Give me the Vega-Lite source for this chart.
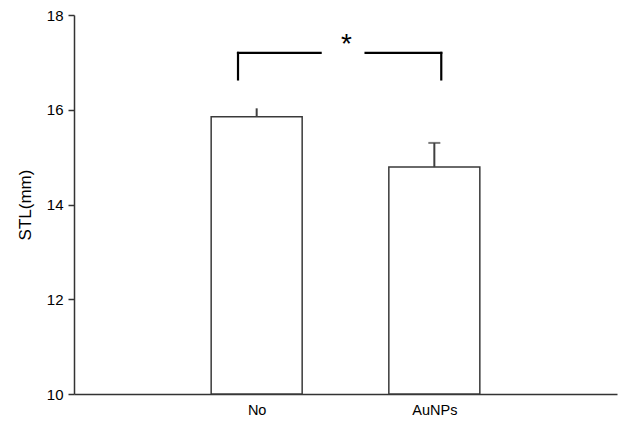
{
  "$schema": "https://vega.github.io/schema/vega-lite/v6.json",
  "width": 543,
  "height": 379,
  "autosize": {"type": "none"},
  "padding": {"left": 74, "top": 15, "right": 4, "bottom": 27},
  "background": "white",
  "config": {
    "view": {"stroke": null},
    "font": "Liberation Sans",
    "axis": {"grid": false, "domainColor": "#333333", "domainWidth": 1.5, "tickColor": "#333333", "tickWidth": 1.5, "labelColor": "black", "titleColor": "black", "labelFont": "Liberation Sans", "titleFont": "Liberation Sans", "titleFontWeight": "normal"}
  },
  "datasets": {
    "bars": [
      {"group": "No", "pos": 1, "mean": 15.85, "upper": 16.03},
      {"group": "AuNPs", "pos": 2, "mean": 14.79, "upper": 15.3}
    ],
    "bracket": [
      {"x": 0.895, "x2": 0.895, "y": 16.64, "y2": 17.2},
      {"x": 0.895, "x2": 1.36, "y": 17.2, "y2": 17.2},
      {"x": 1.613, "x2": 2.039, "y": 17.2, "y2": 17.2},
      {"x": 2.039, "x2": 2.039, "y": 16.64, "y2": 17.2}
    ],
    "star": [{"x": 1.505, "y": 17.2, "label": "*"}]
  },
  "layer": [
    {
      "data": {"name": "bars"},
      "mark": {"type": "bar", "size": 91, "fill": "white", "stroke": "#3a3a3a", "strokeWidth": 1.5},
      "encoding": {
        "x": {"field": "pos", "type": "quantitative", "scale": {"domain": [0, 3], "nice": false},
          "axis": {"values": [1, 2], "labelExpr": "datum.value == 1 ? 'No' : 'AuNPs'", "ticks": false, "labelPadding": 9, "labelFontSize": 14.5, "title": null}},
        "y": {"field": "mean", "type": "quantitative", "scale": {"domain": [10, 18], "nice": false, "zero": false},
          "axis": {"values": [10, 12, 14, 16, 18], "tickSize": 6, "labelPadding": 5, "labelFontSize": 15, "title": "STL(mm)", "titleFontSize": 17, "titlePadding": 12}},
        "y2": {"datum": 10}
      }
    },
    {
      "data": {"name": "bars"},
      "mark": {"type": "rule", "strokeWidth": 2, "color": "#404040"},
      "encoding": {
        "x": {"field": "pos", "type": "quantitative"},
        "y": {"field": "mean", "type": "quantitative"},
        "y2": {"field": "upper"}
      }
    },
    {
      "data": {"name": "bars"},
      "transform": [{"filter": "datum.group == 'AuNPs'"}],
      "mark": {"type": "tick", "orient": "horizontal", "size": 12, "thickness": 2, "color": "#404040"},
      "encoding": {
        "x": {"field": "pos", "type": "quantitative"},
        "y": {"field": "upper", "type": "quantitative"}
      }
    },
    {
      "data": {"name": "bracket"},
      "mark": {"type": "rule", "strokeWidth": 2.2, "color": "black", "strokeCap": "square"},
      "encoding": {
        "x": {"field": "x", "type": "quantitative"},
        "x2": {"field": "x2"},
        "y": {"field": "y", "type": "quantitative"},
        "y2": {"field": "y2"}
      }
    },
    {
      "data": {"name": "star"},
      "mark": {"type": "text", "fontSize": 28, "baseline": "alphabetic", "align": "center", "color": "black"},
      "encoding": {
        "x": {"field": "x", "type": "quantitative"},
        "y": {"field": "y", "type": "quantitative"},
        "text": {"field": "label"}
      }
    }
  ]
}
